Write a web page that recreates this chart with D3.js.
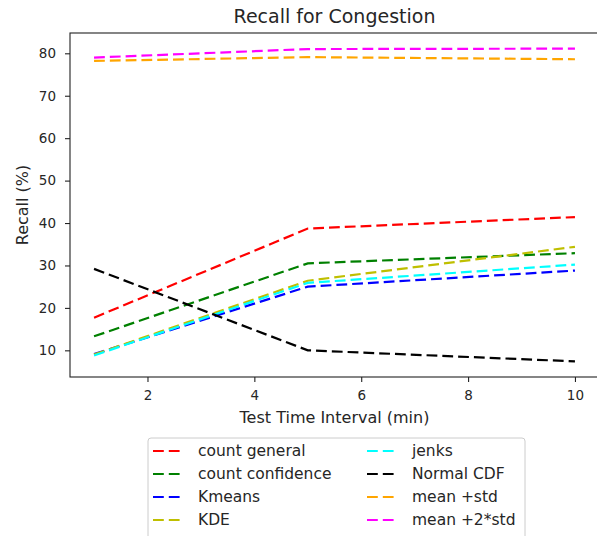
<!DOCTYPE html>
<html>
<head>
<meta charset="utf-8">
<script src="https://cdn.jsdelivr.net/npm/d3@7"></script>
<style>
  body { margin: 0; background: #fff; }
  svg { font-family: "DejaVu Sans", sans-serif; }
</style>
</head>
<body>
<svg id="chart" width="597" height="536"></svg>
<script>
const intervals = [1, 5, 10];
const seriesNames = ["count general", "count confidence", "Kmeans", "KDE",
                     "jenks", "Normal CDF", "mean +std", "mean +2*std"];
const seriesColors = ["#ff0000", "#008000", "#0000ff", "#bfbf00",
                      "#00ffff", "#000000", "#ffa500", "#ff00ff"];
const countGeneral = [17.7, 38.7, 41.4];
const countConfidence = [13.3, 30.5, 32.9];
const kmeans = [9.1, 25.0, 28.8];
const kde = [9.0, 26.4, 34.4];
const jenks = [8.8, 25.9, 30.2];
const normalCdf = [29.2, 10.0, 7.4];
const meanStd = [78.2, 79.1, 78.6];
const mean2Std = [79.0, 81.0, 81.1];
const allSeries = [countGeneral, countConfidence, kmeans, kde, jenks, normalCdf, meanStd, mean2Std];
const xTicks = [2, 4, 6, 8, 10];
const yTicks = [10, 20, 30, 40, 50, 60, 70, 80];

const svg = d3.select("#chart");
const plotL = 70, plotR = 599, plotT = 33, plotB = 377;
const dash = "10.8,5";

// matplotlib style 5% padding around the data
function padded(ext) {
  const p = (ext[1] - ext[0]) * 0.05;
  return [ext[0] - p, ext[1] + p];
}
const x = d3.scaleLinear().domain(padded(d3.extent(intervals))).range([plotL, plotR]);
const y = d3.scaleLinear().domain(padded(d3.extent(allSeries.flat()))).range([plotB, plotT]);

const line = d3.line().x((d, i) => x(intervals[i])).y(d => y(d));

allSeries.forEach((vals, k) => {
  svg.append("path")
    .datum(vals)
    .attr("d", line)
    .attr("fill", "none")
    .attr("stroke", seriesColors[k])
    .attr("stroke-width", 2.2)
    .attr("stroke-dasharray", dash);
});

// frame
svg.append("rect")
  .attr("x", plotL).attr("y", plotT)
  .attr("width", plotR - plotL).attr("height", plotB - plotT)
  .attr("fill", "none").attr("stroke", "#222").attr("stroke-width", 1.1);

const xAxis = svg.append("g")
  .attr("transform", `translate(0,${plotB})`)
  .call(d3.axisBottom(x).tickValues(xTicks).tickSize(5).tickPadding(8).tickFormat(d3.format("d")));
const yAxis = svg.append("g")
  .attr("transform", `translate(${plotL},0)`)
  .call(d3.axisLeft(y).tickValues(yTicks).tickSize(5).tickPadding(9).tickFormat(d3.format("d")));
[xAxis, yAxis].forEach(a => {
  a.select(".domain").remove();
  a.selectAll("text").attr("font-size", 13.5).attr("fill", "#262626").attr("font-family", "DejaVu Sans");
  a.selectAll("line").attr("stroke", "#222").attr("stroke-width", 1.1);
});

svg.append("text")
  .attr("x", (plotL + plotR) / 2).attr("y", 23)
  .attr("text-anchor", "middle")
  .attr("font-size", 19).attr("fill", "#262626")
  .text("Recall for Congestion");

svg.append("text")
  .attr("x", (plotL + plotR) / 2).attr("y", 423)
  .attr("text-anchor", "middle")
  .attr("font-size", 16).attr("fill", "#262626")
  .text("Test Time Interval (min)");

svg.append("text")
  .attr("transform", `translate(28,${(plotT + plotB) / 2}) rotate(-90)`)
  .attr("text-anchor", "middle")
  .attr("font-size", 16).attr("fill", "#262626")
  .text("Recall (%)");

// legend
const lg = svg.append("g");
lg.append("rect")
  .attr("x", 148).attr("y", 438)
  .attr("width", 377).attr("height", 110)
  .attr("rx", 3)
  .attr("fill", "#fff").attr("stroke", "#ccc").attr("stroke-width", 1);

seriesNames.forEach((name, k) => {
  const col = Math.floor(k / 4), row = k % 4;
  const hx = col === 0 ? 153 : 367;
  const ty = 451 + row * 23;
  lg.append("line")
    .attr("x1", hx).attr("x2", hx + 28)
    .attr("y1", ty).attr("y2", ty)
    .attr("stroke", seriesColors[k]).attr("stroke-width", 2.2)
    .attr("stroke-dasharray", dash);
  lg.append("text")
    .attr("x", hx + 45).attr("y", ty)
    .attr("dy", "0.35em")
    .attr("font-size", 15.5).attr("fill", "#262626")
    .text(name);
});
</script>
</body>
</html>
